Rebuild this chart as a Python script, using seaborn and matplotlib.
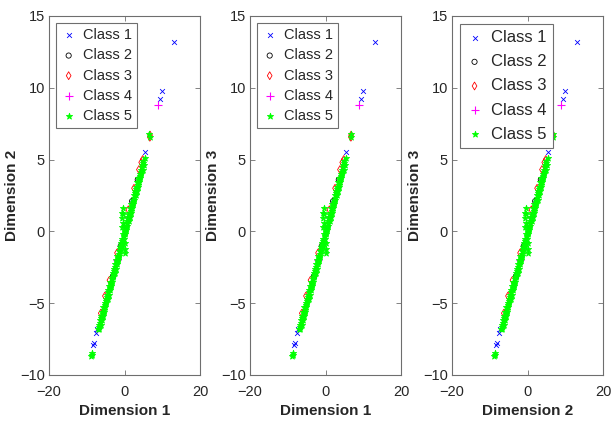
import matplotlib
matplotlib.use("Agg")
import matplotlib.pyplot as plt
import seaborn as sns
import pandas as pd

# ---------------- data ----------------
class_names = ["Class 1", "Class 2", "Class 3", "Class 4", "Class 5"]

c1_x = [13.2, 9.9, 9.3, 5.5, -7.2, -7.6, -8.0, -8.3, 2.0, -3.0]
c1_y = [13.2, 9.77, 9.2, 5.5, -6.8, -7.1, -7.8, -7.9, 2.1, -3.1]

c2_x = [0.5, -1.0, 2.0, -3.0, 3.5]
c2_y = [0.4, -1.0, 2.1, -3.1, 3.6]

c3_x = [-6.3, -5.2, 4.4, 3.8, 4.8, 6.75, 6.7, -2.0, -4.0, 1.0, 2.5, -6.0]
c3_y = [-5.7, -4.5, 4.8, 4.3, 5.0, 6.7, 6.55, -1.5, -3.4, 1.5, 3.0, -6.1]

c4_x = [8.9, 1.0, -2.0]
c4_y = [8.8, 1.0, -2.0]

c5_x = [-8.7, -8.8, -8.6,
        -7.15, -6.85, -6.54, -6.23, -5.92, -5.61, -5.30, -4.99, -4.68, -4.37,
        -4.06, -3.76, -3.45, -3.14, -2.83, -2.52, -2.21, -1.90, -1.59, -1.28,
        -0.97, -0.67, -0.36, -0.05, 0.26, 0.57, 0.88, 1.19, 1.50, 1.81,
        2.12, 2.43, 2.73, 3.04, 3.35, 3.66, 3.97, 4.28, 4.59, 4.90,
        -6.65, -6.35, -6.04, -5.73, -5.42, -5.11, -4.80, -4.49, -4.18, -3.87,
        -3.56, -3.26, -2.95, -2.64, -2.33, -2.02, -1.71, -1.40, -1.09, -0.78,
        -0.47, -0.17, 0.14, 0.45, 0.76, 1.07, 1.38, 1.69, 2.00, 2.31,
        2.62, 2.93, 3.23, 3.54, 3.85, 4.16, 4.47, 4.78, 5.09, 5.30,
        -6.75, -6.44, -6.13, -5.82, -5.51, -5.20, -4.90, -4.59, -4.28, -3.97,
        -3.66, -3.35, -3.04, -2.73, -2.42, -2.11, -1.81, -1.50, -1.19, -0.88,
        -0.57, -0.26, 0.05, 0.36, 0.67, 0.98, 1.28, 1.59, 1.90, 2.21,
        2.52, 2.83, 3.14, 3.45, 3.76, 4.07, 4.37, 4.68, 4.99,
        -0.3, -0.6, -0.7, -0.5, -0.6, -0.3, 0.1, 0.2, 0.0, 6.6, 6.7]
c5_y = [-8.6, -8.7, -8.5,
        -6.8, -6.5, -6.2, -5.9, -5.6, -5.3, -5.0, -4.7, -4.4, -4.1,
        -3.8, -3.5, -3.2, -2.9, -2.6, -2.3, -2.0, -1.7, -1.4, -1.1,
        -0.8, -0.5, -0.2, 0.1, 0.4, 0.7, 1.0, 1.3, 1.6, 1.9,
        2.2, 2.5, 2.8, 3.1, 3.4, 3.7, 4.0, 4.3, 4.6, 4.9,
        -6.8, -6.5, -6.2, -5.9, -5.6, -5.3, -5.0, -4.7, -4.4, -4.1,
        -3.8, -3.5, -3.2, -2.9, -2.6, -2.3, -2.0, -1.7, -1.4, -1.1,
        -0.8, -0.5, -0.2, 0.1, 0.4, 0.7, 1.0, 1.3, 1.6, 1.9,
        2.2, 2.5, 2.8, 3.1, 3.4, 3.7, 4.0, 4.3, 4.6, 5.1,
        -6.65, -6.35, -6.05, -5.75, -5.45, -5.15, -4.85, -4.55, -4.25, -3.95,
        -3.65, -3.35, -3.05, -2.75, -2.45, -2.15, -1.85, -1.55, -1.25, -0.95,
        -0.65, -0.35, -0.05, 0.25, 0.55, 0.85, 1.15, 1.45, 1.75, 2.05,
        2.35, 2.65, 2.95, 3.25, 3.55, 3.85, 4.15, 4.45, 4.75,
        1.6, 1.3, 0.9, 0.6, 0.3, 1.2, -1.5, -0.8, -1.2, 6.8, 6.6]

panel_xlabels = ["Dimension 1", "Dimension 1", "Dimension 2"]
panel_ylabels = ["Dimension 2", "Dimension 3", "Dimension 3"]
x_ticks = [-20, 0, 20]
y_ticks = [-10, -5, 0, 5, 10, 15]

# ---------------- styling ----------------
sns.set_theme(style="white")
plt.rcParams["font.family"] = ["Liberation Sans", "DejaVu Sans"]

colors = ["#0000ff", "#000000", "#ff0000", "#ff00ff", "#00ff00"]
markers = ["x", "o", "d", "+", "*"]
sizes = [12, 14, 16, 30, 22]
line_w = [0.6, 0.6, 0.6, 0.8, 0.6]
open_marker = [False, True, True, False, False]

frames = []
for name, xs, ys in zip(class_names, [c1_x, c2_x, c3_x, c4_x, c5_x],
                        [c1_y, c2_y, c3_y, c4_y, c5_y]):
    frames.append(pd.DataFrame({"x": xs, "y": ys, "cls": name}))
df = pd.concat(frames, ignore_index=True)

fig = plt.figure(figsize=(6.12, 4.23), dpi=100)
lefts = [0.080, 0.4085, 0.7386]
bottom, height, width = 0.1135, 0.849, 0.247
spine_col = "#6e6e6e"
text_col = "#262626"

for i in range(3):
    ax = fig.add_axes([lefts[i], bottom, width, height])
    for name, col, mk, sz, lw, op in zip(class_names, colors, markers, sizes,
                                         line_w, open_marker):
        sub = df[df["cls"] == name]
        sns.scatterplot(x="x", y="y", data=sub, ax=ax, hue="cls",
                        palette={name: col}, marker=mk, s=sz,
                        linewidth=lw, legend=False)
        coll = ax.collections[-1]
        coll.set_label(name)
        if op:
            coll.set_facecolor("none")
            coll.set_edgecolor(col)
        else:
            coll.set_facecolor(col)
            coll.set_edgecolor(col)
    ax.set_xlim(-20, 20)
    ax.set_ylim(-10, 15)
    ax.set_xticks(x_ticks)
    ax.set_yticks(y_ticks)
    ax.tick_params(direction="in", length=3.5, width=0.6, colors=spine_col,
                   labelcolor=text_col, labelsize=10.5,
                   top=True, right=True, bottom=True, left=True)
    ax.tick_params(axis="x", pad=7)
    ax.tick_params(axis="y", pad=3)
    for sp in ax.spines.values():
        sp.set_color(spine_col)
        sp.set_linewidth(0.8)
    ax.set_xlabel(panel_xlabels[i], fontsize=11, fontweight="bold",
                  color=text_col, labelpad=4)
    ax.set_ylabel(panel_ylabels[i], fontsize=11, fontweight="bold",
                  color=text_col, labelpad=1)
    fs = 10.5 if i < 2 else 12
    lsp = 0.42 if i < 2 else 0.55
    leg = ax.legend(loc="upper left", fontsize=fs, frameon=True, fancybox=False,
                    edgecolor=spine_col, framealpha=1, borderaxespad=0.5,
                    borderpad=0.35, handlelength=1.0, handletextpad=0.5,
                    labelspacing=lsp, scatterpoints=1)
    leg.get_frame().set_linewidth(0.8)

fig.savefig("out.png", dpi=100)
